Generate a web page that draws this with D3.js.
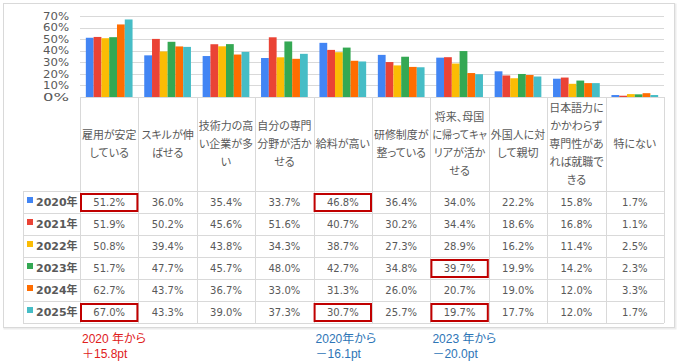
<!DOCTYPE html>
<html><head><meta charset="utf-8">
<script src="https://cdn.jsdelivr.net/npm/d3@7"></script>
<style>
html,body{margin:0;padding:0;background:#fff;}
svg{display:block;}
</style></head>
<body>
<svg id="chart" width="683" height="364"></svg>
<script>
// ---- data ----
const categories = [
  ["雇用が安定","している"],
  ["スキルが伸","ばせる"],
  ["技術力の高","い企業が多","い"],
  ["自分の専門","分野が活か","せる"],
  ["給料が高い"],
  ["研修制度が","整っている"],
  ["将来、母国","に帰ってキャ","リアが活か","せる"],
  ["外国人に対","して親切"],
  ["日本語力に","かかわらず","専門性があ","れば就職で","きる"],
  ["特にない"]
];
const years = ["2020年","2021年","2022年","2023年","2024年","2025年"];
const v2020 = [51.2,36.0,35.4,33.7,46.8,36.4,34.0,22.2,15.8,1.7];
const v2021 = [51.9,50.2,45.6,51.6,40.7,30.2,34.4,18.6,16.8,1.1];
const v2022 = [50.8,39.4,43.8,34.3,38.7,27.3,28.9,16.2,11.4,2.5];
const v2023 = [51.7,47.7,45.7,48.0,42.7,34.8,39.7,19.9,14.2,2.3];
const v2024 = [62.7,43.7,36.7,33.0,31.3,26.0,20.7,19.0,12.0,3.3];
const v2025 = [67.0,43.3,39.0,37.3,30.7,25.7,19.7,17.7,12.0,1.7];
const seriesValues = [v2020,v2021,v2022,v2023,v2024,v2025];
const colors = ["#4285f4","#ea4335","#fbbc04","#34a853","#ff6d01","#46bdc6"];
const yTicks = [0,10,20,30,40,50,60,70];
const highlightCat = [0,0,4,4,6,6];
const highlightYear = [0,5,0,5,3,5];
const noteCat = [0,4,6];
const noteLine1 = ["2020 年から","2020年から","2023 年から"];
const noteLine2 = ["＋15.8pt","－16.1pt","－20.0pt"];
const noteColor = ["#e0201c","#2e75b6","#2e75b6"];

// ---- layout ----
const svg = d3.select("#chart");
const plotL = 80, plotR = 664, plotT = 16, plotB = 97;
const headerB = 191, rowH = 22, legendL = 23;
const grid = "#d9d9d9", txt = "#595959";

// frame
svg.append("rect").attr("x",4.5).attr("y",4.5).attr("width",671).attr("height",324)
  .attr("fill","none").attr("stroke","#ececec").attr("stroke-width",2);
svg.append("rect").attr("x",3.5).attr("y",3.5).attr("width",671).attr("height",324)
  .attr("fill","#fff").attr("stroke",grid);

const catIdx = d3.range(categories.length);
const x = d3.scaleBand().domain(catIdx).range([plotL,plotR]).paddingInner(0.2).paddingOuter(0.1);
const step = x.step();
const xs = d3.scaleBand().domain(d3.range(years.length)).range([0,x.bandwidth()]);
const y = d3.scaleLinear().domain([0,70]).range([plotB,plotT]);

// gridlines
svg.append("g").selectAll("line").data(yTicks.slice(1)).join("line")
  .attr("x1",plotL).attr("x2",plotR)
  .attr("y1",d=>Math.round(y(d))+0.5).attr("y2",d=>Math.round(y(d))+0.5)
  .attr("stroke",grid);

// y axis labels
const yAxis = d3.axisLeft(y).tickValues(yTicks).tickFormat(d=>d+"%").tickSize(0).tickPadding(0);
const ga = svg.append("g").attr("transform",`translate(69,0)`).call(yAxis);
ga.select(".domain").remove();
ga.selectAll("text").attr("font-family","DejaVu Sans, sans-serif").attr("font-size",9.9)
  .attr("fill",txt).attr("textLength",26).attr("lengthAdjust","spacingAndGlyphs");

// bars
seriesValues.forEach((vals,si)=>{
  svg.append("g").selectAll("rect").data(vals).join("rect")
    .attr("x",(d,i)=>x(i)+xs(si))
    .attr("width",xs.bandwidth())
    .attr("y",d=>y(d))
    .attr("height",d=>plotB-y(d))
    .attr("fill",colors[si]);
});

// table grid
const tableB = headerB + rowH*years.length;
const tg = svg.append("g").attr("stroke",grid).attr("shape-rendering","crispEdges");
tg.append("line").attr("x1",plotL).attr("x2",plotR).attr("y1",plotB+0.5).attr("y2",plotB+0.5);
d3.range(years.length+1).forEach(r=>{
  const yy = headerB + r*rowH + 0.5;
  tg.append("line").attr("x1",legendL).attr("x2",plotR).attr("y1",yy).attr("y2",yy);
});
d3.range(categories.length+1).forEach(c=>{
  const xx = Math.round(plotL + c*step)+0.5;
  tg.append("line").attr("x1",xx).attr("x2",xx).attr("y1",plotB).attr("y2",tableB);
});
tg.append("line").attr("x1",legendL+0.5).attr("x2",legendL+0.5).attr("y1",headerB).attr("y2",tableB);

// header labels
const headerMid = (plotB+headerB)/2;
categories.forEach((lines,c)=>{
  const cx = plotL + (c+0.5)*step;
  const lh = 18;
  lines.forEach((ln,i)=>{
    const t = svg.append("text").attr("text-anchor","middle")
      .attr("font-family","Noto Sans CJK JP, sans-serif").attr("font-size",11)
      .attr("fill",txt).style("font-feature-settings","'palt'")
      .attr("x",cx)
      .attr("y",headerMid + (i-(lines.length-1)/2)*lh)
      .attr("dy","0.35em").text(ln);
    const w = t.node().getComputedTextLength();
    if (w > step-4) t.attr("textLength",step-4).attr("lengthAdjust","spacingAndGlyphs");
  });
});

// rows
years.forEach((yr,r)=>{
  const cy = headerB + r*rowH + rowH/2;
  svg.append("rect").attr("x",27).attr("y",cy-5).attr("width",6).attr("height",6).attr("fill",colors[r]);
  svg.append("text").attr("x",36).attr("y",cy).attr("dy","0.36em")
    .attr("font-family","DejaVu Sans, Noto Sans CJK JP, sans-serif").attr("font-weight","bold")
    .attr("font-size",11).attr("fill",txt).text(yr);
  svg.append("g").selectAll("text").data(seriesValues[r]).join("text")
    .attr("x",(d,i)=>plotL+(i+0.5)*step).attr("y",cy).attr("dy","0.36em")
    .attr("text-anchor","middle").attr("font-family","DejaVu Sans, sans-serif")
    .attr("font-size",10).attr("fill",txt).text(d=>d.toFixed(1)+"%");
});

// highlight boxes
highlightCat.forEach((c,i)=>{
  const r = highlightYear[i];
  svg.append("rect").attr("x",plotL+c*step+1).attr("y",headerB+r*rowH+3)
    .attr("width",step-2).attr("height",rowH-5)
    .attr("fill","none").attr("stroke","#c00000").attr("stroke-width",2);
});

// notes
noteCat.forEach((c,i)=>{
  const nx = plotL + c*step + 2;
  [noteLine1[i], noteLine2[i]].forEach((s,j)=>{
    svg.append("text").attr("font-family","Liberation Sans, Noto Sans CJK JP, sans-serif")
      .attr("font-size",12).attr("fill",noteColor[i]).style("font-feature-settings","'palt'")
      .attr("x",nx).attr("y",342.5 + j*15).text(s);
  });
});
</script>
</body></html>
